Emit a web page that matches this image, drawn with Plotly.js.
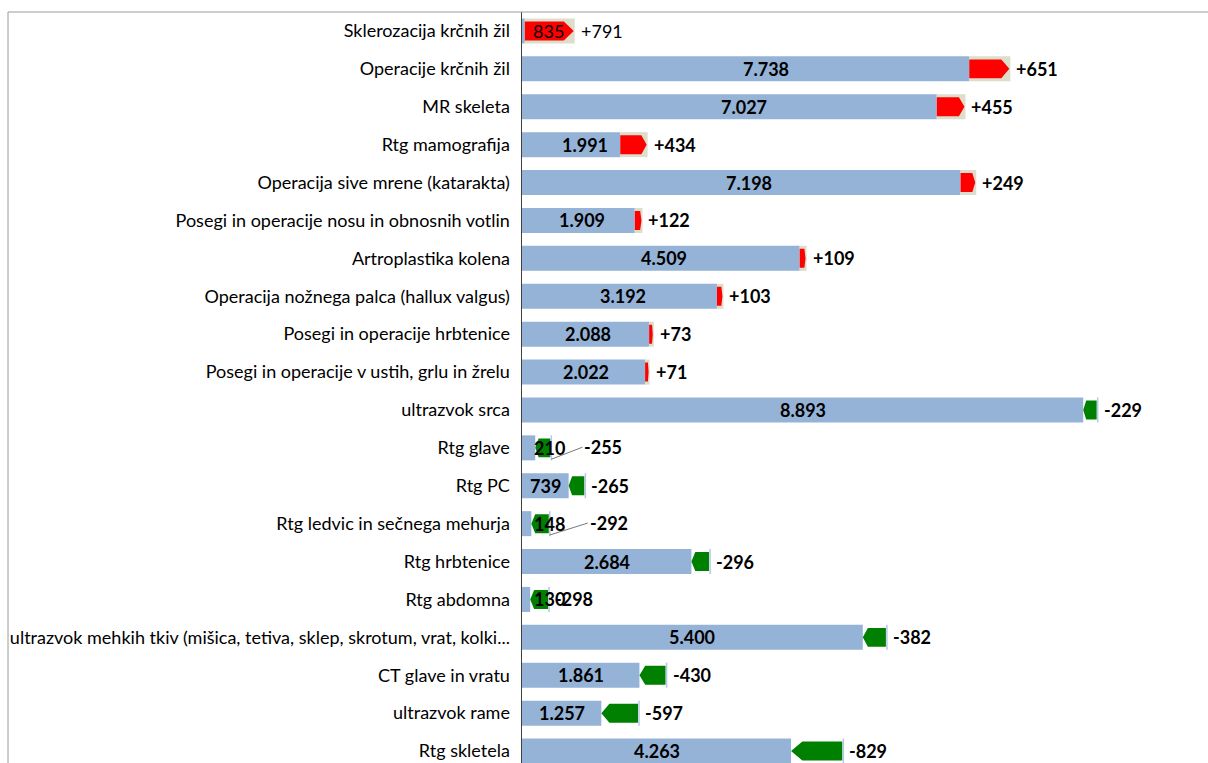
<!DOCTYPE html>
<html>
<head>
<meta charset="utf-8">
<script src="https://cdn.plot.ly/plotly-3.0.1.min.js"></script>
<style>
html,body{margin:0;padding:0;background:#fff;}
#chart{width:1208px;height:763px;}
</style>
</head>
<body>
<div id="chart"></div>
<script>
// ---- data ----
const categories = [
  "Sklerozacija krčnih žil",
  "Operacije krčnih žil",
  "MR skeleta",
  "Rtg mamografija",
  "Operacija sive mrene (katarakta)",
  "Posegi in operacije nosu in obnosnih votlin",
  "Artroplastika kolena",
  "Operacija nožnega palca (hallux valgus)",
  "Posegi in operacije hrbtenice",
  "Posegi in operacije v ustih, grlu in žrelu",
  "ultrazvok srca",
  "Rtg glave",
  "Rtg PC",
  "Rtg ledvic in sečnega mehurja",
  "Rtg hrbtenice",
  "Rtg abdomna",
  "ultrazvok mehkih tkiv (mišica, tetiva, sklep, skrotum, vrat, kolki...",
  "CT glave in vratu",
  "ultrazvok rame",
  "Rtg skletela"
];
const newValues = [835, 7738, 7027, 1991, 7198, 1909, 4509, 3192, 2088, 2022,
                   8893, 210, 739, 148, 2684, 130, 5400, 1861, 1257, 4263];
const changes   = [791, 651, 455, 434, 249, 122, 109, 103, 73, 71,
                   -229, -255, -265, -292, -296, -298, -382, -430, -597, -829];

// ---- layout config ----
const W = 1208, H = 763;
const plotLeft = 522, plotTop = 12;
const xMax = 10870;
const pxW = W - plotLeft;
const K = xMax / pxW;           // data units per pixel
const FONT = "Lato, 'Open Sans', Arial, sans-serif";
const FS = 18;

const N = categories.length;
const idx = categories.map((_, i) => i);
const oldValues = newValues.map((v, i) => v - changes[i]);
const isUp = changes.map(d => d > 0);

function fmt(n) {
  const s = String(Math.abs(n)).replace(/\B(?=(\d{3})+(?!\d))/g, ".");
  return (n < 0 ? "-" : "") + s;
}

const blueX = newValues.map((v, i) => isUp[i] ? oldValues[i] : v);

const traces = [];
traces.push({
  type: "bar", orientation: "h", y: idx, x: blueX, width: 0.66,
  marker: {color: "#95B3D7", line: {width: 0}}, hoverinfo: "skip"
});
traces.push({
  type: "bar", orientation: "h", y: idx,
  x: changes.map((d, i) => isUp[i] ? d : null),
  base: oldValues.map((o, i) => isUp[i] ? o : null),
  width: 0.66, marker: {color: "#DDDDCC", line: {width: 0}}, hoverinfo: "skip"
});

const h = 0.25;
const rx = [], ry = [], gx = [], gy = [], lx = [], ly = [];
idx.forEach(i => {
  if (isUp[i]) {
    const x0 = oldValues[i], x1 = newValues[i] - 1 * K;
    const tip = 0.2 * (x1 - x0);
    rx.push(x0, x1 - tip, x1, x1 - tip, x0, null);
    ry.push(i - h, i - h, i, i + h, i + h, null);
  } else {
    const xt = newValues[i], x1 = oldValues[i] - 1 * K;
    const tip = 0.22 * (x1 - xt);
    gx.push(xt, xt + tip, x1, x1, xt + tip, null);
    gy.push(i, i - h, i - h, i + h, i + h, null);
    lx.push(oldValues[i], oldValues[i], null);
    ly.push(i - 0.33, i + 0.33, null);
  }
});
traces.push({type: "scatter", mode: "lines", x: rx, y: ry, fill: "toself",
  fillcolor: "#FF0000", line: {width: 0, color: "#FF0000"}, hoverinfo: "skip"});
traces.push({type: "scatter", mode: "lines", x: gx, y: gy, fill: "toself",
  fillcolor: "#008000", line: {width: 0, color: "#008000"}, hoverinfo: "skip"});
traces.push({type: "scatter", mode: "lines", x: lx, y: ly,
  line: {width: 1.5, color: "#B4C9E4"}, hoverinfo: "skip"});

const annotations = [];
const leader = {11: 31, 13: 38};
idx.forEach(i => {
  const weight = i === 0 ? "normal" : "bold";
  const v = newValues[i];
  annotations.push({
    x: v < 300 ? 430 : v / 2, y: i, xref: "x", yref: "y",
    text: fmt(v), showarrow: false, xanchor: "center", yanchor: "middle",
    font: {family: FONT, size: FS, color: "#000", weight: weight}
  });
  const end = Math.max(oldValues[i], newValues[i]);
  const dtxt = (changes[i] > 0 ? "+" : "") + fmt(changes[i]);
  if (leader[i]) {
    annotations.push({
      x: end, y: i + 0.3, xref: "x", yref: "y", text: dtxt,
      showarrow: true, arrowhead: 0, arrowwidth: 0.8, arrowcolor: "#555",
      ax: leader[i], ay: -12, xanchor: "left", yanchor: "middle",
      font: {family: FONT, size: FS, color: "#000", weight: weight}
    });
  } else {
    annotations.push({
      x: end, y: i, xref: "x", yref: "y", text: dtxt, showarrow: false,
      xanchor: "left", yanchor: "middle", xshift: 4,
      font: {family: FONT, size: FS, color: "#000", weight: weight}
    });
  }
});

const plotH = H - plotTop;
const perCat = 37.9;
const yBottom = -0.5 + plotH / perCat;

const layout = {
  width: W, height: H,
  margin: {l: plotLeft, r: 0, t: plotTop, b: 0, pad: 0},
  paper_bgcolor: "#fff", plot_bgcolor: "#fff",
  barmode: "overlay", showlegend: false,
  xaxis: {range: [0, xMax], showgrid: false, zeroline: false,
          showticklabels: false, showline: false, fixedrange: true},
  yaxis: {range: [yBottom, -0.5], autorange: false, tickvals: idx, ticktext: categories,
          showgrid: false, zeroline: false, showline: true, linecolor: "#404040",
          linewidth: 1.5, ticks: "", ticklabelstandoff: 7,
          tickfont: {family: FONT, size: FS, color: "#000"}},
  annotations: annotations,
  shapes: [
    {type: "line", xref: "paper", yref: "paper", x0: (8 - plotLeft) / pxW, x1: 1.01,
     y0: 1, y1: 1, line: {color: "#9a9a9a", width: 1}},
    {type: "line", xref: "paper", yref: "paper", x0: (8 - plotLeft) / pxW, x1: (8 - plotLeft) / pxW,
     y0: 1, y1: -0.02, line: {color: "#9a9a9a", width: 1}}
  ]
};

Plotly.newPlot("chart", traces, layout, {displayModeBar: false, staticPlot: true});
</script>
</body>
</html>
